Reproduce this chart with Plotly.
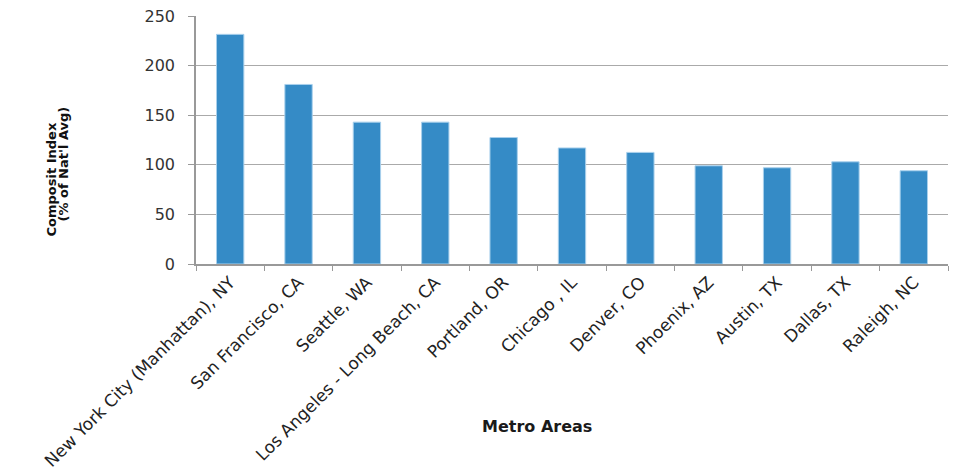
import plotly.graph_objects as go

metros = ["New York City (Manhattan), NY", "San Francisco, CA", "Seattle, WA",
          "Los Angeles - Long Beach, CA", "Portland, OR", "Chicago , IL",
          "Denver, CO", "Phoenix, AZ", "Austin, TX", "Dallas, TX", "Raleigh, NC"]
index_values = [231.5, 181, 143, 143, 127.5, 117, 112.5, 99, 97, 103, 94]
y_ticks = [0, 50, 100, 150, 200, 250]

FONT = "'DejaVu Sans', sans-serif"

L, R, T, B = 196, 11, 16, 209
W, H = 959, 473
pw, ph = W - L - R, H - T - B


def px(x):
    return (x - L) / pw


def py(y):
    return (H - B - y) / ph


fig = go.Figure(go.Bar(
    x=metros, y=index_values,
    marker=dict(color="#358BC6", line=dict(color="#A9D0EC", width=1)),
))

fig.update_layout(
    width=W, height=H,
    margin=dict(l=L, r=R, t=T, b=B, autoexpand=False),
    plot_bgcolor="white", paper_bgcolor="white",
    bargap=0.6, showlegend=False,
    font=dict(family=FONT, size=15, color="#333333"),
    annotations=[
        dict(text="<b>Composit Index</b>", x=px(41), y=py(180),
             xref="paper", yref="paper", textangle=-90, showarrow=False,
             font=dict(size=13, color="#111111", family=FONT)),
        dict(text="<b>(% of Nat'l Avg)</b>", x=px(53), y=py(164),
             xref="paper", yref="paper", textangle=-90, showarrow=False,
             font=dict(size=13, color="#111111", family=FONT)),
        dict(text="<b>Metro Areas</b>", x=px(537), y=py(438), xref="paper", yref="paper",
             showarrow=False, font=dict(size=16, color="#1a1a1a", family=FONT)),
    ],
)

fig.update_xaxes(
    tickangle=-45, tickson="boundaries", ticks="outside", ticklen=5,
    tickcolor="#999999", showline=True, linecolor="#999999", linewidth=1.5,
    tickfont=dict(size=17, color="#222222"), showgrid=False, automargin=False,
)
fig.update_yaxes(
    range=[0, 250], tickvals=y_ticks, ticks="outside", ticklen=6,
    tickcolor="#999999", showline=True, linecolor="#999999", linewidth=1.5,
    gridcolor="#AAAAAA", gridwidth=1.2, zeroline=False, automargin=False,
    tickfont=dict(size=16, color="#333333"), ticklabelstandoff=10,
)

fig.write_html("out.html")
